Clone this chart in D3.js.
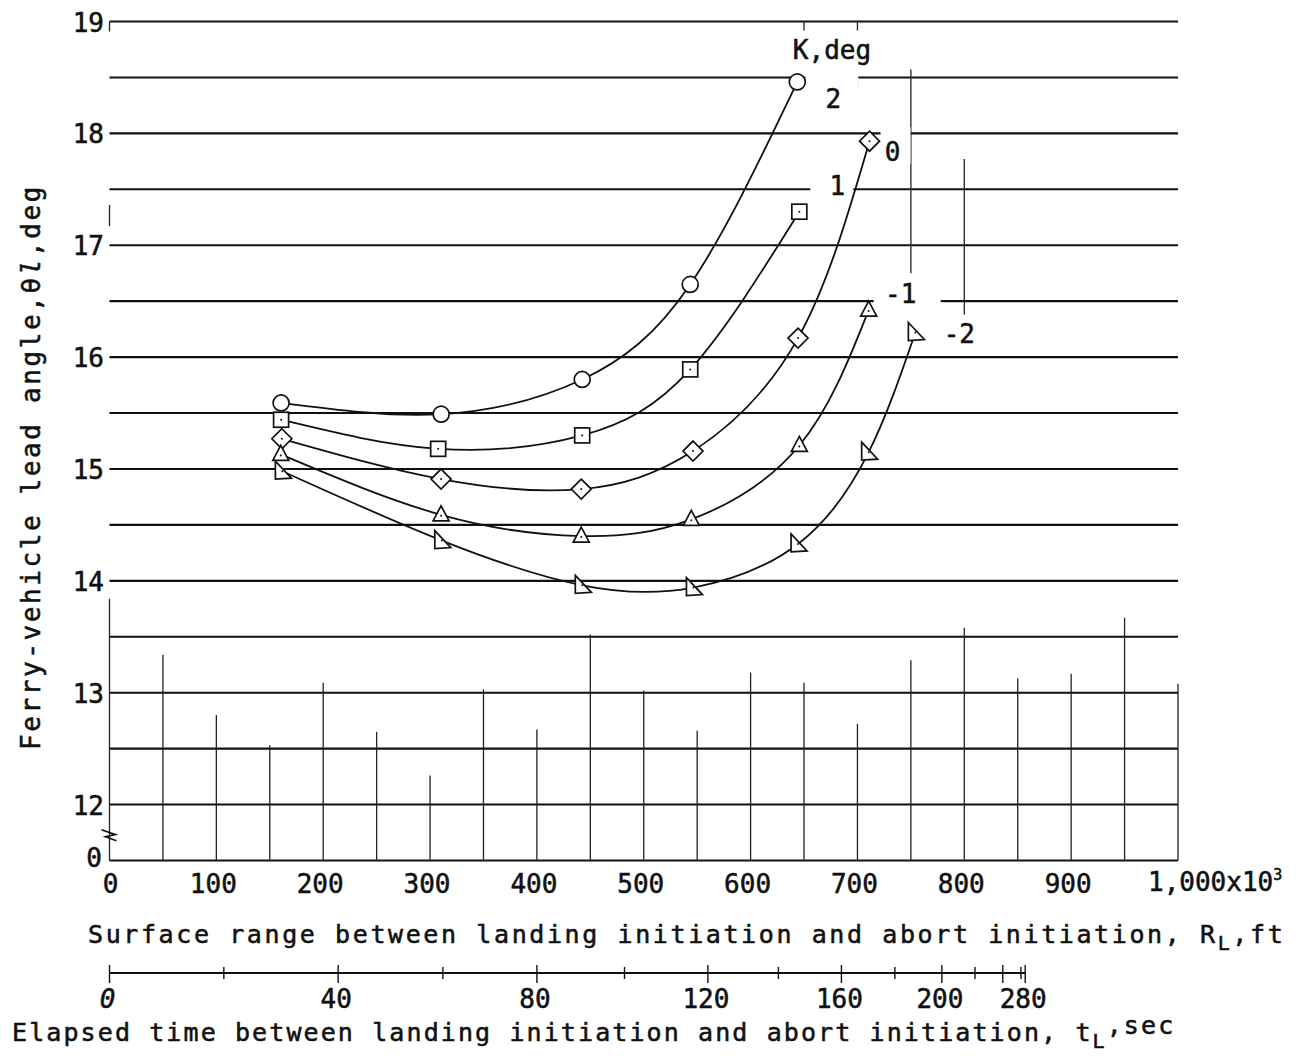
<!DOCTYPE html>
<html>
<head>
<meta charset="utf-8">
<script src="https://cdn.jsdelivr.net/npm/d3@7"></script>
<style>
  body { margin: 0; background: #fff; }
  svg { display: block; }
  text { font-family: "DejaVu Sans Mono", "Liberation Mono", monospace; fill: #111; stroke: #111; stroke-width: 0.55px; }
</style>
</head>
<body>
<svg id="chart" width="1308" height="1058"></svg>
<script>
// Ferry-vehicle lead angle vs. surface range, one curve per K (deg).
// Range in thousands of feet, lead angle in degrees.
const kLabels = ["2", "1", "0", "-1", "-2"];
const rangeK2  = [160.6, 310.4, 442.4, 543.5, 643.7];
const angleK2  = [15.59, 15.49, 15.80, 16.65, 18.46];
const rangeK1  = [160.6, 307.6, 442.4, 543.5, 645.6];
const angleK1  = [15.44, 15.18, 15.30, 15.89, 17.30];
const rangeK0  = [161.3, 310.3, 441.5, 546.1, 644.4, 711.3];
const angleK0  = [15.27, 14.91, 14.82, 15.16, 16.17, 17.93];
const rangeKm1 = [160.3, 310.3, 441.5, 544.5, 645.6, 710.5];
const angleKm1 = [15.13, 14.59, 14.40, 14.55, 15.21, 16.42];
const rangeKm2 = [161.8, 311.0, 442.5, 546.5, 644.4, 710.5, 754.2];
const angleKm2 = [14.98, 14.36, 13.96, 13.94, 14.33, 15.15, 16.22];

// Range axis (thousands of ft)
const rangeTicks = [0, 100, 200, 300, 400, 500, 600, 700, 800, 900, 1000];
const rangeTickLabels = ["0", "100", "200", "300", "400", "500", "600", "700", "800", "900", "1,000"];
// Lead-angle axis (broken below 12; the baseline is labelled 0)
const angleTicks = [12, 13, 14, 15, 16, 17, 18, 19];
const angleBaseValue = 11.5;
const angleBaseLabel = "0";
const angleGridStep = 0.5;

// Elapsed-time scale: time (sec) versus the surface range it corresponds to
const timeTicks = [0, 20, 40, 60, 80, 100, 120, 140, 160, 180, 200, 220, 240, 260, 280];
const timeTickRange = [0, 107, 214, 312, 400, 482, 560, 626, 685, 735, 779, 810, 836, 853, 857];
const timeLabelValues = [0, 40, 80, 120, 160, 200, 280];

// Vertical rulings of the grid sheet: range value and the angle where each stops
const gridRange = [0, 50, 100, 150, 200, 250, 300, 350, 400, 450, 500,
                   550, 600, 650, 700, 750, 800, 850, 900, 950, 1000];
const gridTop = [13.84, 13.34, 12.80, 12.53, 13.09, 12.65, 12.26, 13.03, 12.67, 13.52, 13.02,
                 12.66, 13.18, 13.09, 12.72, 13.29, 13.58, 13.13, 13.17, 13.67, 13.08];
// Short surviving pieces of rulings in the upper grid
const fragRange = [0, 0, 650, 700, 700, 750, 800];
const fragFrom  = [19.0, 17.36, 19.0, 19.0, 18.52, 18.57, 17.77];
const fragTo    = [18.91, 17.17, 18.92, 18.92, 18.39, 16.75, 16.38];

const svg = d3.select("#chart");
const x = d3.scaleLinear().domain([0, 1000]).range([109.5, 1178]);
const y = d3.scaleLinear().domain([angleBaseValue, 19]).range([860.5, 21.5]);
const tScale = d3.scaleLinear().domain(timeTicks).range(timeTickRange.map(v => x(v)));

const ink = "#111";

// ---- grid ----
const grid = svg.append("g");
const hLines = d3.range(12, 19.0001, angleGridStep);
grid.selectAll("line.h").data(hLines).join("line")
  .attr("x1", x(0)).attr("x2", x(1000))
  .attr("y1", d => y(d)).attr("y2", d => y(d))
  .attr("stroke", ink).attr("stroke-width", 2.1);
// baseline (the "0" line)
grid.append("line")
  .attr("x1", x(0)).attr("x2", x(1000))
  .attr("y1", y(angleBaseValue)).attr("y2", y(angleBaseValue))
  .attr("stroke", ink).attr("stroke-width", 2.1);
grid.selectAll("line.v").data(gridRange).join("line")
  .attr("x1", d => x(d)).attr("x2", d => x(d))
  .attr("y1", y(angleBaseValue)).attr("y2", (d, i) => y(gridTop[i]))
  .attr("stroke", "#222").attr("stroke-width", 1.3);
grid.selectAll("line.f").data(fragRange).join("line")
  .attr("x1", d => x(d)).attr("x2", d => x(d))
  .attr("y1", (d, i) => y(fragFrom[i])).attr("y2", (d, i) => y(fragTo[i]))
  .attr("stroke", "#222").attr("stroke-width", 1.3);

// axis break mark on the angle axis
grid.append("path")
  .attr("d", `M${x(0) - 8},${y(11.74) - 4} L${x(0) + 6},${y(11.74) + 1} L${x(0) - 4},${y(11.74) + 3} L${x(0) + 7},${y(11.74) + 7}`)
  .attr("fill", "none").attr("stroke", ink).attr("stroke-width", 1.6);

// ---- series ----
const series = [
  { k: kLabels[0], xs: rangeK2,  ys: angleK2,  marker: "circle" },
  { k: kLabels[1], xs: rangeK1,  ys: angleK1,  marker: "square" },
  { k: kLabels[2], xs: rangeK0,  ys: angleK0,  marker: "diamond" },
  { k: kLabels[3], xs: rangeKm1, ys: angleKm1, marker: "triangle" },
  { k: kLabels[4], xs: rangeKm2, ys: angleKm2, marker: "flag" }
];

// curve labels: offset from the last point, and the cleared box around each label
const labelPlace = {
  "2":  { dx: 36, dy: 17,  box: [-28, 25, -27, 12] },
  "1":  { dx: 38, dy: -26, box: [-27, 16, -12, 12] },
  "0":  { dx: 23, dy: 11,  box: [-12, 18, -25, 12] },
  "-1": { dx: 32, dy: -16, box: [-27, 40, -12, 12] },
  "-2": { dx: 44, dy: 2,   box: [-16, 16, -12, 12] }
};

const labelLayer = svg.append("g");
series.forEach(s => {
  const n = s.xs.length - 1;
  const p = labelPlace[s.k];
  const cx = x(s.xs[n]) + p.dx, cy = y(s.ys[n]) + p.dy;
  labelLayer.append("rect")
    .attr("x", cx + p.box[0]).attr("y", cy + p.box[2])
    .attr("width", p.box[1] - p.box[0]).attr("height", p.box[3] - p.box[2])
    .attr("fill", "#fff");
  labelLayer.append("text")
    .attr("x", cx).attr("y", cy + 9)
    .attr("text-anchor", "middle")
    .attr("font-size", 26)
    .text(s.k);
});

// legend heading
labelLayer.append("text")
  .attr("x", 832).attr("y", 59)
  .attr("text-anchor", "middle").attr("font-size", 26)
  .text("K,deg");

const line = d3.line().x(d => x(d[0])).y(d => y(d[1])).curve(d3.curveNatural);
const curves = svg.append("g");
series.forEach(s => {
  const pts = s.xs.map((v, i) => [v, s.ys[i]]);
  curves.append("path")
    .attr("d", line(pts))
    .attr("fill", "none").attr("stroke", ink).attr("stroke-width", 1.8);
});

function drawMarker(g, type, px, py) {
  const st = { fill: "#fff", stroke: ink, "stroke-width": 1.7 };
  let el;
  if (type === "circle") {
    el = g.append("circle").attr("cx", px).attr("cy", py).attr("r", 8);
  } else if (type === "square") {
    el = g.append("rect").attr("x", px - 7.5).attr("y", py - 7.5).attr("width", 15).attr("height", 15);
  } else if (type === "diamond") {
    el = g.append("path").attr("d", `M${px},${py - 10} L${px + 10},${py} L${px},${py + 10} L${px - 10},${py} Z`);
  } else if (type === "triangle") {
    el = g.append("path").attr("d", `M${px},${py - 9} L${px + 8},${py + 6} L${px - 8},${py + 6} Z`);
  } else {
    el = g.append("path").attr("d", `M${px - 7},${py - 10} L${px + 9},${py + 7} L${px - 7},${py + 8} Z`);
  }
  Object.entries(st).forEach(([k, v]) => el.attr(k, v));
  if (type !== "circle") {
    g.append("circle").attr("cx", px).attr("cy", py + (type === "triangle" ? 1 : 0)).attr("r", 1).attr("fill", ink);
  }
}
const marks = svg.append("g");
series.forEach(s => {
  s.xs.forEach((v, i) => drawMarker(marks, s.marker, x(v), y(s.ys[i])));
});

// ---- range axis labels ----
const xAxis = svg.append("g");
rangeTicks.forEach((v, i) => {
  if (i === rangeTicks.length - 1) {
    const t = xAxis.append("text").attr("x", x(v) - 30).attr("y", 891).attr("font-size", 26);
    t.append("tspan").text(rangeTickLabels[i] + "x10");
    t.append("tspan").attr("font-size", 15).attr("dy", -11).text("3");
  } else {
    xAxis.append("text")
      .attr("x", i === 0 ? x(v) + 1 : x(v) - 3).attr("y", 893)
      .attr("text-anchor", "middle").attr("font-size", 26)
      .text(rangeTickLabels[i]);
  }
});

// ---- angle axis labels ----
const yAxis = svg.append("g");
angleTicks.forEach(v => {
  yAxis.append("text")
    .attr("x", 104).attr("y", y(v) + 10)
    .attr("text-anchor", "end").attr("font-size", 26)
    .text(v);
});
yAxis.append("text")
  .attr("x", 102).attr("y", y(angleBaseValue) + 6)
  .attr("text-anchor", "end").attr("font-size", 26)
  .text(angleBaseLabel);

// ---- axis titles ----
const xTitle = svg.append("text")
  .attr("x", 88).attr("y", 943)
  .attr("font-size", 25).attr("letter-spacing", 2.6);
xTitle.append("tspan").text("Surface range between landing initiation and abort initiation, R");
xTitle.append("tspan").attr("font-size", 20).attr("dy", 7).text("L");
xTitle.append("tspan").attr("dy", -7).text(",ft");

const yTitle = svg.append("text")
  .attr("transform", "translate(40,467) rotate(-90)")
  .attr("text-anchor", "middle")
  .attr("font-size", 26).attr("letter-spacing", 2.6);
yTitle.append("tspan").text("Ferry-vehicle lead angle,θ");
yTitle.append("tspan").attr("font-style", "italic").text("l");
yTitle.append("tspan").text(",deg");

// ---- elapsed-time scale ----
const tAxis = svg.append("g");
const tY = 973;
tAxis.append("line")
  .attr("x1", tScale(0)).attr("x2", tScale(280))
  .attr("y1", tY).attr("y2", tY)
  .attr("stroke", ink).attr("stroke-width", 2);
tAxis.selectAll("line.tick").data(timeTicks).join("line")
  .attr("x1", d => tScale(d)).attr("x2", d => tScale(d))
  .attr("y1", d => (d % 40 === 0 || d === 280) ? tY - 8 : tY - 6)
  .attr("y2", d => (d % 40 === 0 || d === 280) ? tY + 10 : tY + 6)
  .attr("stroke", ink).attr("stroke-width", 1.4);
tAxis.selectAll("text").data(timeLabelValues).join("text")
  .attr("x", d => tScale(d) - 2).attr("y", 1008)
  .attr("text-anchor", "middle").attr("font-size", 26)
  .attr("font-style", d => d === 0 ? "italic" : null)
  .text(d => d);

const tTitle = svg.append("text")
  .attr("x", 12).attr("y", 1041)
  .attr("font-size", 25).attr("letter-spacing", 2.1);
tTitle.append("tspan").text("Elapsed time between landing initiation and abort initiation, t");
tTitle.append("tspan").attr("font-size", 20).attr("dy", 7).text("L");
tTitle.append("tspan").attr("dy", -14).text(",sec");
</script>
</body>
</html>
